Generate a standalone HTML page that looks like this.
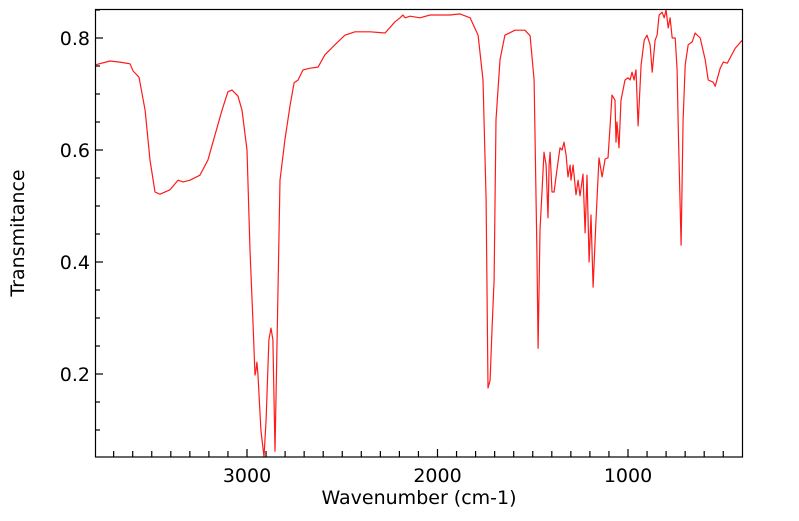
<!DOCTYPE html>
<html><head><meta charset="utf-8"><style>
body{margin:0;background:#fff;}
svg text{font-family:"DejaVu Sans","Liberation Sans",sans-serif;fill:#000;}
</style></head><body>
<svg id="chart" width="799" height="516" xmlns="http://www.w3.org/2000/svg">
<g id="axes"></g>
<polyline id="spectrum" fill="none" stroke="#ff1a1a" stroke-width="1.2" stroke-linejoin="round"/>
<rect x="95.5" y="9.5" width="647" height="447.5" fill="none" stroke="#000" stroke-width="1.2"/>
<text x="419" y="504" font-size="19" text-anchor="middle">Wavenumber (cm-1)</text>
<text transform="translate(24,233) rotate(-90)" font-size="19" text-anchor="middle">Transmitance</text>
</svg>
<script>
const wavenumbers=[3798,3719,3667,3614,3598,3567,3535,3509,3483,3457,3404,3362,3336,3299,3247,3205,3168,3131,3100,3079,3047,3026,3000,2984,2969,2958,2953,2948,2942,2927,2911,2900,2885,2874,2864,2853,2843,2827,2801,2774,2753,2732,2706,2669,2627,2591,2538,2486,2433,2354,2275,2223,2197,2181,2170,2144,2092,2039,1934,1882,1829,1787,1761,1745,1735,1724,1714,1703,1693,1672,1646,1593,1541,1514,1493,1478,1472,1462,1451,1441,1430,1420,1414,1409,1399,1388,1373,1357,1346,1336,1325,1315,1304,1299,1288,1273,1262,1252,1236,1225,1215,1204,1194,1183,1168,1152,1136,1120,1105,1094,1084,1068,1063,1058,1047,1037,1016,1000,989,979,968,958,947,931,915,900,884,873,858,847,837,821,810,800,789,779,768,752,742,736,721,711,700,684,663,648,621,595,579,553,542,516,500,479,437,400];
const transmittance=[.752,.759,.757,.754,.741,.730,.671,.582,.525,.521,.529,.546,.543,.546,.555,.582,.627,.671,.704,.707,.696,.671,.600,.421,.296,.198,.207,.221,.198,.100,.052,.118,.261,.282,.261,.062,.243,.546,.618,.680,.720,.725,.743,.746,.748,.770,.788,.805,.811,.811,.809,.829,.836,.841,.836,.839,.836,.841,.841,.843,.836,.805,.725,.511,.175,.189,.279,.368,.654,.761,.805,.814,.814,.804,.725,.421,.246,.457,.529,.596,.573,.479,.573,.596,.525,.525,.564,.604,.600,.614,.591,.552,.573,.546,.573,.520,.546,.518,.557,.452,.555,.400,.484,.355,.475,.586,.552,.584,.586,.643,.698,.689,.614,.650,.604,.689,.725,.729,.725,.739,.725,.743,.643,.752,.796,.805,.788,.739,.796,.805,.841,.846,.836,.850,.818,.836,.800,.800,.743,.636,.430,.654,.752,.788,.793,.809,.800,.761,.725,.721,.714,.746,.757,.755,.782,.796];
const xMajorTicks=[3000,2000,1000];
const xMajorLabels=["3000","2000","1000"];
const yMajorTicks=[0.2,0.4,0.6,0.8];
const yMajorLabels=["0.2","0.4","0.6","0.8"];

const X=w=>247-(w-3000)*0.1905;
const Y=t=>38+(0.8-t)*560;
const NS="http://www.w3.org/2000/svg";
const axes=document.getElementById('axes');
function ln(x1,y1,x2,y2,name){const l=document.createElementNS(NS,'line');l.setAttribute('x1',x1);l.setAttribute('y1',y1);l.setAttribute('x2',x2);l.setAttribute('y2',y2);l.setAttribute('stroke','#000');l.setAttribute('stroke-width','1.2');


axes.appendChild(l);}
function tx(x,y,s,anchor,name){const t=document.createElementNS(NS,'text');t.setAttribute('x',x);t.setAttribute('y',y);t.setAttribute('font-size','19');t.setAttribute('text-anchor',anchor);t.textContent=s;


axes.appendChild(t);}
for(let w=3700;w>=500;w-=100){const x=X(w);const major=w%1000===0;ln(x,457,x,major?449:451,major?'x-major-tick':'x-minor-tick');}
xMajorTicks.forEach((w,i)=>tx(X(w),482,xMajorLabels[i],'middle','x-tick-label'));
for(let k=2;k<=17;k++){const t=k*0.05;const y=Y(t);const major=k%4===0;ln(95,y,major?103:100,y,major?'y-major-tick':'y-minor-tick');}
yMajorTicks.forEach((t,i)=>tx(90,Y(t)+7,yMajorLabels[i],'end','y-tick-label'));
document.getElementById('spectrum').setAttribute('points',wavenumbers.map((w,i)=>X(w).toFixed(1)+','+Math.min(457,Y(transmittance[i])).toFixed(1)).join(' '));
</script>
</body></html>
